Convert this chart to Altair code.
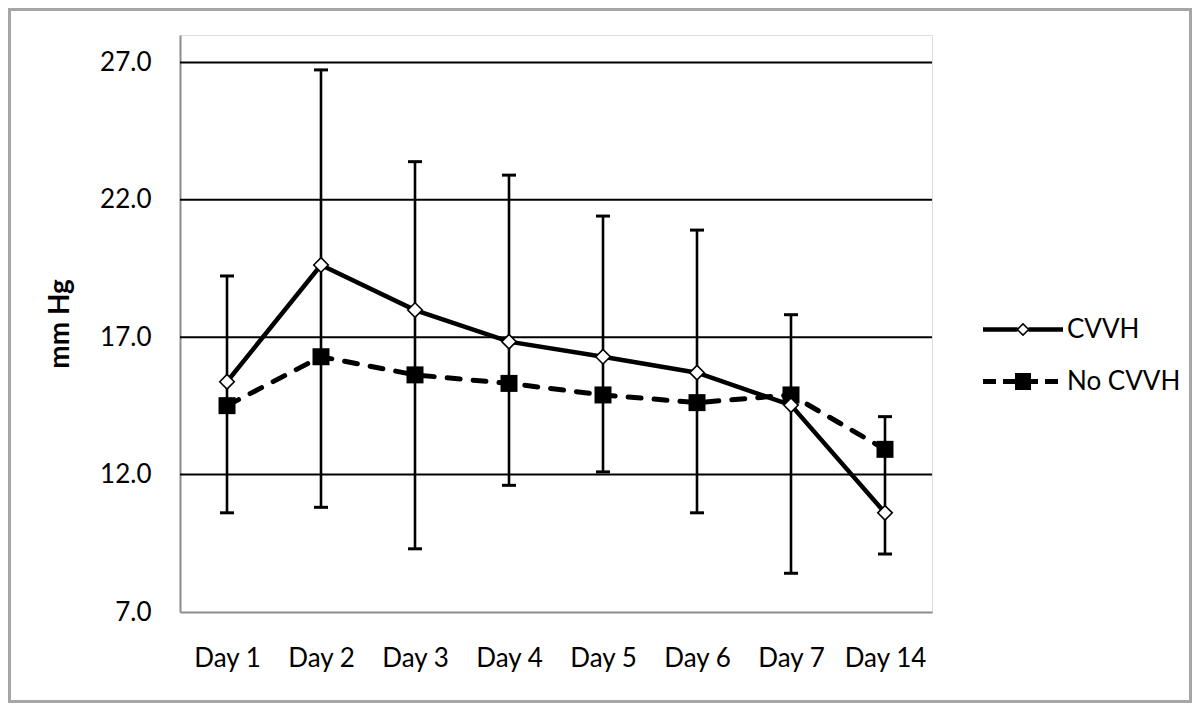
import altair as alt
import pandas as pd

# ---- data ----
days = ["Day 1", "Day 2", "Day 3", "Day 4", "Day 5", "Day 6", "Day 7", "Day 14"]
cvvh = [15.38, 19.63, 17.99, 16.84, 16.29, 15.71, 14.53, 10.61]
no_cvvh = [14.51, 16.29, 15.63, 15.32, 14.90, 14.62, 14.90, 12.92]
err_high = [19.23, 26.73, 23.39, 22.90, 21.41, 20.90, 17.82, 14.11]
err_low = [10.61, 10.81, 9.30, 11.61, 12.10, 10.61, 8.41, 9.11]
series_names = ["CVVH", "No CVVH"]
y_ticks = [7, 12, 17, 22, 27]
grid_values = [12, 17, 22, 27]

long_df = pd.DataFrame({
    "day": days * 2,
    "series": [series_names[0]] * len(days) + [series_names[1]] * len(days),
    "value": cvvh + no_cvvh,
})
err_df = pd.DataFrame({"day": days, "lo": err_low, "hi": err_high})
grid_df = pd.DataFrame({"g": grid_values})

FONT = "Lato"

x_scale = alt.Scale(type="point", padding=0.5)
x_axis = alt.Axis(
    title=None, ticks=False, tickSize=0, grid=False, domainColor="#8c8c8c", domainWidth=2,
    labelFont=FONT, labelFontSize=26, labelColor="black", labelPadding=33, labelAngle=0,
)
y_scale = alt.Scale(domain=[7, 28], nice=False, zero=False)
y_axis = alt.Axis(
    values=y_ticks, format=".1f", ticks=False, tickSize=0, grid=False,
    domainColor="#8c8c8c", domainWidth=2,
    labelFont=FONT, labelFontSize=26, labelColor="black", labelPadding=29,
    titleFont=FONT, titleFontSize=28, titleFontWeight="bold", titleColor="black",
    titlePadding=25,
)


def X(field):
    return alt.X(field, sort=days, scale=x_scale, axis=x_axis, title=None)


def Y(field):
    return alt.Y(field, scale=y_scale, axis=y_axis, title="mm Hg")


grid = alt.Chart(grid_df).mark_rule(color="black", strokeWidth=2).encode(y=Y("g:Q"))

err_rule = alt.Chart(err_df).mark_rule(color="black", strokeWidth=2.6).encode(
    x=X("day:N"), y=Y("lo:Q"), y2="hi:Q"
)
cap_lo = alt.Chart(err_df).mark_tick(color="black", thickness=3, size=14, opacity=1).encode(
    x=X("day:N"), y=Y("lo:Q")
)
cap_hi = alt.Chart(err_df).mark_tick(color="black", thickness=3, size=14, opacity=1).encode(
    x=X("day:N"), y=Y("hi:Q")
)

line_no = alt.Chart(long_df).transform_filter(alt.datum.series == "No CVVH").mark_line(
    color="black", strokeWidth=5, strokeDash=[13, 13], strokeCap="round"
).encode(x=X("day:N"), y=Y("value:Q"))

line_cv = alt.Chart(long_df).transform_filter(alt.datum.series == "CVVH").mark_line(
    color="black", strokeWidth=4.5
).encode(x=X("day:N"), y=Y("value:Q"))

pts_no = alt.Chart(long_df).transform_filter(alt.datum.series == "No CVVH").mark_point(
    shape="square", size=289, filled=True, color="black", opacity=1
).encode(x=X("day:N"), y=Y("value:Q"))

pts_cv = alt.Chart(long_df).transform_filter(alt.datum.series == "CVVH").mark_point(
    shape="diamond", size=210, filled=True, fill="white", stroke="black", strokeWidth=1.6, opacity=1
).encode(x=X("day:N"), y=Y("value:Q"))

# legend symbols: line + marker drawn as custom paths (1 unit = 10 px)
path_cv = ("M-4,-0.22H-0.55V0.22H-4Z M0.55,-0.22H4V0.22H0.55Z "
           "M0,-0.68L0.68,0L0,0.68L-0.68,0Z M0,-0.46L-0.46,0L0,0.46L0.46,0Z")
path_no = ("M-4,-0.25H-2.7V0.25H-4Z M-2,-0.25H-0.8V0.25H-2Z M-0.8,-0.85H0.8V0.85H-0.8Z "
           "M0.8,-0.25H1.5V0.25H0.8Z M2.2,-0.25H3.5V0.25H2.2Z")

legend_layer = alt.Chart(long_df).transform_filter("datum.value < 0").mark_point(
    filled=True, color="black", opacity=1
).encode(
    x=X("day:N"), y=Y("value:Q"),
    shape=alt.Shape(
        "series:N",
        scale=alt.Scale(domain=series_names, range=[path_cv, path_no]),
        legend=alt.Legend(
            title=None, orient="none", legendX=830, legendY=281.5, padding=0,
            symbolSize=400, symbolStrokeWidth=0, symbolFillColor="black", symbolOpacity=1,
            labelFont=FONT, labelFontSize=26, labelColor="black", labelOffset=31,
            rowPadding=26, labelLimit=300,
        ),
    ),
)

frame = alt.Chart(pd.DataFrame({"k": [0]})).mark_rect(
    filled=False, stroke="#a6a6a6", strokeWidth=3
).encode(
    x=alt.value(-170.5), x2=alt.value(1010.5), y=alt.value(-25.5), y2=alt.value(666.5)
)

chart = alt.layer(
    grid, err_rule, cap_lo, cap_hi, line_no, line_cv, pts_no, pts_cv, legend_layer, frame
).properties(
    width=752, height=577,
    padding={"left": 172, "top": 27, "right": 260, "bottom": 91},
    autosize=alt.AutoSizeParams(type="none"),
    background="white",
).configure_view(stroke=None).configure(font=FONT)

chart.save("out.html", embed_options={"renderer": "svg", "actions": False})
